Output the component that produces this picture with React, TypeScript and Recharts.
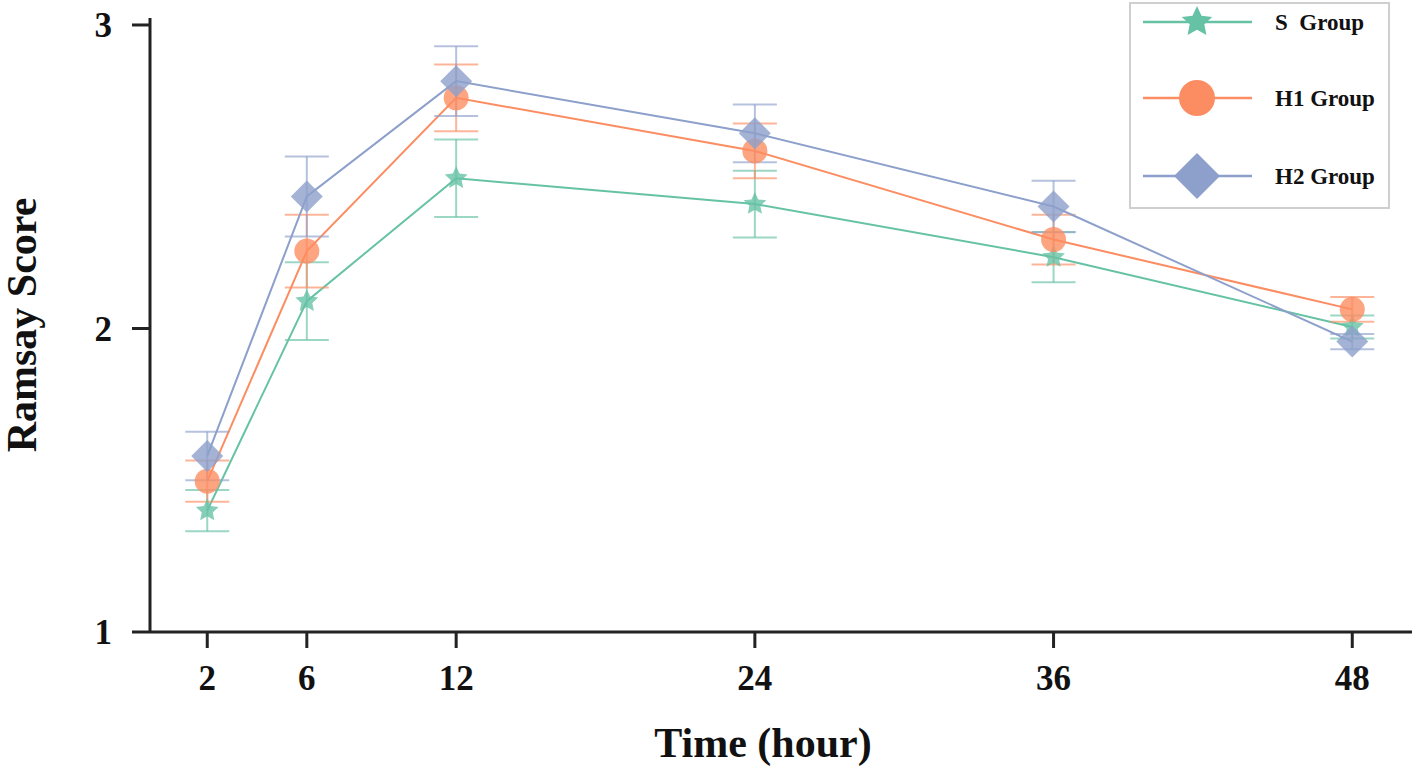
import { LineChart, Line, XAxis, YAxis, ErrorBar, Legend } from "recharts";

const hours = [2, 6, 12, 24, 36, 48];
const xTicks = [2, 6, 12, 24, 36, 48];
const yTicks = [1, 2, 3];

const sMean = [1.4, 2.09, 2.495, 2.41, 2.235, 2.005];
const sErr = [0.068, 0.128, 0.128, 0.11, 0.083, 0.038];
const h1Mean = [1.497, 2.255, 2.76, 2.585, 2.293, 2.063];
const h1Err = [0.068, 0.12, 0.11, 0.09, 0.082, 0.041];
const h2Mean = [1.58, 2.435, 2.815, 2.643, 2.402, 1.957];
const h2Err = [0.08, 0.132, 0.115, 0.095, 0.085, 0.025];

const GREEN = "#66c2a5";
const ORANGE = "#fc8d62";
const BLUE = "#8da0cb";
const FONT = "'Liberation Serif', 'Times New Roman', serif";

const data = hours.map((h, i) => ({
  hour: h,
  s: sMean[i],
  sErr: sErr[i],
  h1: h1Mean[i],
  h1Err: h1Err[i],
  h2: h2Mean[i],
  h2Err: h2Err[i],
}));

function starPath(cx: number, cy: number, r: number) {
  const pts: string[] = [];
  for (let k = 0; k < 10; k++) {
    const rad = k % 2 === 0 ? r : r * 0.48;
    const a = -Math.PI / 2 + (k * Math.PI) / 5;
    pts.push(`${cx + rad * Math.cos(a)},${cy + rad * Math.sin(a)}`);
  }
  return "M" + pts.join("L") + "Z";
}

function diamondPath(cx: number, cy: number, r: number) {
  return `M${cx},${cy - r}L${cx + r},${cy}L${cx},${cy + r}L${cx - r},${cy}Z`;
}

const starDot = (p: any) => (
  <path key={`s-${p.index}`} d={starPath(p.cx, p.cy, 12)} fill={GREEN} fillOpacity={0.8} />
);
const circleDot = (p: any) => (
  <circle key={`h1-${p.index}`} cx={p.cx} cy={p.cy} r={12.5} fill={ORANGE} fillOpacity={0.8} />
);
const diamondDot = (p: any) => (
  <path key={`h2-${p.index}`} d={diamondPath(p.cx, p.cy, 16)} fill={BLUE} fillOpacity={0.8} />
);

function LegendBox() {
  const rows = [
    { label: "S  Group", color: GREEN, y: 20, shape: "star" },
    { label: "H1 Group", color: ORANGE, y: 96, shape: "circle" },
    { label: "H2 Group", color: BLUE, y: 174, shape: "diamond" },
  ];
  return (
    <svg width={262} height={208}>
      <rect x={1} y={1} width={259} height={205} fill="#fff" stroke="#cfcfcf" strokeWidth={2} />
      {rows.map((r) => (
        <g key={r.label}>
          <line x1={14} x2={123} y1={r.y} y2={r.y} stroke={r.color} strokeWidth={2.5} />
          {r.shape === "star" && <path d={starPath(68, r.y, 16)} fill={r.color} />}
          {r.shape === "circle" && <circle cx={68} cy={r.y} r={18} fill={r.color} />}
          {r.shape === "diamond" && <path d={diamondPath(68, r.y, 23)} fill={r.color} />}
          <text
            x={146}
            y={r.y + 8}
            fontFamily={FONT}
            fontWeight="bold"
            fontSize={23}
            fill="#111"
            style={{ whiteSpace: "pre" }}
          >
            {r.label}
          </text>
        </g>
      ))}
    </svg>
  );
}

const tickStyle = { fontFamily: FONT, fontWeight: "bold", fontSize: 35, fill: "#111" };

export default function App() {
  return (
    <div style={{ position: "absolute", left: 0, top: 0, background: "#fff" }}>
      <LineChart
        width={1416}
        height={770}
        data={data}
        margin={{ top: 18, right: 4, bottom: 0, left: 0 }}
      >
        <XAxis
          dataKey="hour"
          type="number"
          domain={[-0.3, 50.4]}
          ticks={xTicks}
          allowDataOverflow
          height={138}
          stroke="#222"
          strokeWidth={3}
          tickSize={16}
          tickMargin={17}
          tick={tickStyle}
          label={{
            content: () => (
              <text
                x={763}
                y={757}
                textAnchor="middle"
                fontFamily={FONT}
                fontWeight="bold"
                fontSize={42}
                fill="#111"
              >
                Time (hour)
              </text>
            ),
          }}
        />
        <YAxis
          type="number"
          domain={[1, 3.023]}
          ticks={yTicks}
          allowDataOverflow
          width={150}
          stroke="#222"
          strokeWidth={3}
          tickSize={18}
          tickMargin={20}
          tick={tickStyle}
          label={{
            content: () => (
              <text
                x={36}
                y={325}
                textAnchor="middle"
                transform="rotate(-90 36 325)"
                fontFamily={FONT}
                fontWeight="bold"
                fontSize={42}
                fill="#111"
              >
                Ramsay Score
              </text>
            ),
          }}
        />
        <Legend
          layout="horizontal"
          align="center"
          verticalAlign="middle"
          content={() => <LegendBox />}
          wrapperStyle={{ position: "absolute", left: 1129, top: 2, width: 262, height: 208 }}
        />
        <Line
          dataKey="s"
          stroke={GREEN}
          strokeWidth={2}
          dot={starDot}
          activeDot={false}
          isAnimationActive={false}
        >
          <ErrorBar dataKey="sErr" direction="y" width={22} stroke={GREEN} strokeOpacity={0.65} strokeWidth={2} />
        </Line>
        <Line
          dataKey="h1"
          stroke={ORANGE}
          strokeWidth={2}
          dot={circleDot}
          activeDot={false}
          isAnimationActive={false}
        >
          <ErrorBar dataKey="h1Err" direction="y" width={22} stroke={ORANGE} strokeOpacity={0.65} strokeWidth={2} />
        </Line>
        <Line
          dataKey="h2"
          stroke={BLUE}
          strokeWidth={2}
          dot={diamondDot}
          activeDot={false}
          isAnimationActive={false}
        >
          <ErrorBar dataKey="h2Err" direction="y" width={22} stroke={BLUE} strokeOpacity={0.65} strokeWidth={2} />
        </Line>
      </LineChart>
    </div>
  );
}
